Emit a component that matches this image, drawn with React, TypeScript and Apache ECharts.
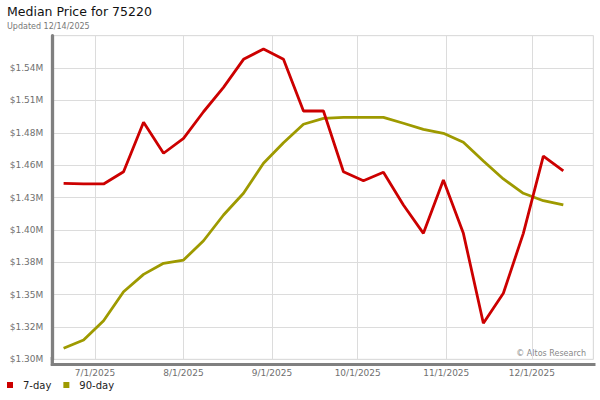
import React, { useEffect, useRef } from "react";
import * as echarts from "echarts";

// Weekly observation dates (Fridays)
const dates: string[] = [
  "2025-06-20", "2025-06-27", "2025-07-04", "2025-07-11", "2025-07-18", "2025-07-25",
  "2025-08-01", "2025-08-08", "2025-08-15", "2025-08-22", "2025-08-29", "2025-09-05",
  "2025-09-12", "2025-09-19", "2025-09-26", "2025-10-03", "2025-10-10", "2025-10-17",
  "2025-10-24", "2025-10-31", "2025-11-07", "2025-11-14", "2025-11-21", "2025-11-28",
  "2025-12-05", "2025-12-12",
];

// 7-day rolling median price (USD)
const price7day: number[] = [
  1445000, 1444500, 1444500, 1454600, 1495300, 1469800, 1482100, 1504000, 1524100, 1547200,
  1555700, 1547200, 1504600, 1504600, 1454600, 1447200, 1454100, 1427200, 1403800, 1447800,
  1403800, 1329700, 1354400, 1403800, 1467500, 1455200,
];

// 90-day rolling median price (USD)
const price90day: number[] = [
  1309100, 1315900, 1331800, 1355700, 1370000, 1379100, 1381800, 1397700, 1418900, 1436800,
  1461500, 1478500, 1493700, 1498600, 1499400, 1499400, 1499400, 1494500, 1489500, 1486200,
  1478800, 1463400, 1448600, 1436800, 1430700, 1427200,
];

const seriesNames: string[] = ["7-day", "90-day"];

// Axis settings
const yMin = 1300000;
const yStep = 80000 / 3;
const yMax = yMin + 10 * yStep;
const xMin = "2025-06-16 01:00:00";
const xMax = "2025-12-22 12:00:00";

const FONT = '"DejaVu Sans", Verdana, sans-serif';

export default function App() {
  const ref = useRef<HTMLDivElement>(null);

  useEffect(() => {
    if (!ref.current) return;
    const chart = echarts.init(ref.current, undefined, { renderer: "svg" });
    const pair = (vals: number[]) => dates.map((d, i) => [d, vals[i]]);

    chart.setOption({
      animation: false,
      backgroundColor: "#ffffff",
      textStyle: { fontFamily: FONT },
      title: {
        text: "Median Price for 75220",
        subtext: "Updated 12/14/2025",
        left: 7,
        top: 5,
        padding: 0,
        itemGap: 4,
        textStyle: { fontFamily: FONT, fontSize: 12.5, fontWeight: "normal", color: "#111" },
        subtextStyle: { fontFamily: FONT, fontSize: 8, color: "#777" },
      },
      legend: {
        data: seriesNames,
        left: 7,
        top: 380,
        padding: 0,
        icon: "rect",
        itemWidth: 6,
        itemHeight: 6,
        itemGap: 12,
        textStyle: { fontFamily: FONT, fontSize: 10, color: "#222", padding: [0, 0, 0, 5] },
      },
      grid: {
        left: 52.3,
        right: 6.7,
        top: 35.7,
        bottom: 40.7,
        show: true,
        borderColor: "#dcdcdc",
        borderWidth: 1,
      },
      xAxis: {
        type: "time",
        min: xMin,
        max: xMax,
        splitNumber: 6,
        minInterval: 28 * 86400000,
        maxInterval: 32 * 86400000,
        offset: 5.2,
        axisLine: { show: true, lineStyle: { color: "#808080", width: 3 } },
        axisTick: { show: false },
        splitLine: { show: true, lineStyle: { color: "#dcdcdc", width: 1 } },
        axisLabel: {
          margin: 4,
          fontFamily: FONT,
          fontSize: 9,
          color: "#707070",
          formatter: (val: number) => {
            const d = new Date(val);
            return `${d.getMonth() + 1}/${d.getDate()}/${d.getFullYear()}`;
          },
        },
      },
      yAxis: {
        type: "value",
        min: yMin,
        max: yMax,
        interval: yStep,
        axisLine: { show: true, lineStyle: { color: "#808080", width: 3.3 } },
        axisTick: { show: false },
        splitLine: { show: true, lineStyle: { color: "#dcdcdc", width: 1 } },
        axisLabel: {
          margin: 9,
          showMaxLabel: false,
          fontFamily: FONT,
          fontSize: 9,
          color: "#707070",
          formatter: (v: number) => {
            const m = Math.floor(v / 10000 + 1e-6) / 100;
            return "$" + m.toFixed(2) + "M";
          },
        },
      },
      graphic: [
        {
          type: "rect",
          shape: { x: 50.65, y: 357, width: 3.3, height: 9 },
          style: { fill: "#808080" },
          silent: true,
        },
        {
          type: "rect",
          shape: { x: 592, y: 363, width: 3.5, height: 3 },
          style: { fill: "#808080" },
          silent: true,
        },
        {
          type: "text",
          right: 14,
          top: 349,
          style: { text: "\u00A9 Altos Research", fill: "#888", fontSize: 8, fontFamily: FONT },
          silent: true,
        },
      ],
      series: [
        {
          name: seriesNames[0],
          type: "line",
          data: pair(price7day),
          showSymbol: false,
          symbol: "none",
          z: 3,
          lineStyle: { color: "#cc0000", width: 2.8 },
          itemStyle: { color: "#cc0000" },
        },
        {
          name: seriesNames[1],
          type: "line",
          data: pair(price90day),
          showSymbol: false,
          symbol: "none",
          z: 2,
          lineStyle: { color: "#9e9a00", width: 2.8 },
          itemStyle: { color: "#9e9a00" },
        },
      ],
    });

    return () => chart.dispose();
  }, []);

  return <div ref={ref} style={{ width: 600, height: 400, position: "absolute", left: 0, top: 0 }} />;
}
